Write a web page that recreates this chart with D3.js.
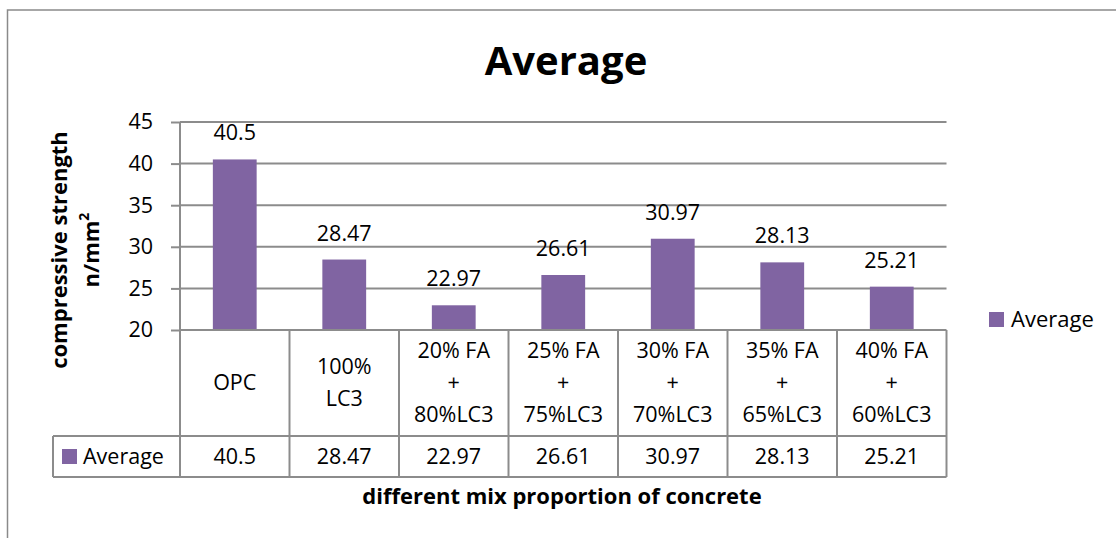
<!DOCTYPE html>
<html>
<head>
<meta charset="utf-8">
<script src="https://cdn.jsdelivr.net/npm/d3@7"></script>
<style>
  html, body { margin: 0; padding: 0; background: #ffffff; }
  svg { display: block; }
  text { font-family: "Open Sans", "DejaVu Sans", sans-serif; fill: #000; }
</style>
</head>
<body>
<svg id="chart" width="1116" height="538"></svg>
<script>
// ---- data ----
const categories = ["OPC", "100% LC3", "20% FA + 80%LC3", "25% FA + 75%LC3", "30% FA + 70%LC3", "35% FA + 65%LC3", "40% FA + 60%LC3"];
const categoryLines = [
  ["OPC"],
  ["100%", "LC3"],
  ["20% FA", "+", "80%LC3"],
  ["25% FA", "+", "75%LC3"],
  ["30% FA", "+", "70%LC3"],
  ["35% FA", "+", "65%LC3"],
  ["40% FA", "+", "60%LC3"]
];
const averageValues = [40.5, 28.47, 22.97, 26.61, 30.97, 28.13, 25.21];
const valueLabels = ["40.5", "28.47", "22.97", "26.61", "30.97", "28.13", "25.21"];
const yTicks = [20, 25, 30, 35, 40, 45];
const seriesName = "Average";
const chartTitle = "Average";
const yTitleLines = ["compressive strength", "n/mm"];
const xTitle = "different mix proportion of concrete";

// ---- layout ----
const W = 1116, H = 538;
const plot = { left: 180, right: 946.5, top: 122, bottom: 330 };
const table = { left: 53, catBottom: 436, valBottom: 477 };
const barColor = "#8064A2";
const lineColor = "#8c8c8c";
const fs = 21.5;

const svg = d3.select("#chart");
svg.append("rect").attr("width", W).attr("height", H).attr("fill", "#fff");

// chart frame (left and top edges visible)
svg.append("path")
  .attr("d", `M7.5,${H} V10 H${W}`)
  .attr("fill", "none").attr("stroke", "#8a8a8a").attr("stroke-width", 1.5);

const x = d3.scaleBand().domain(categories)
  .range([plot.left, plot.right]).paddingInner(0.6).paddingOuter(0.3);
const y = d3.scaleLinear().domain([20, 45]).range([plot.bottom, plot.top]);

// gridlines
svg.append("g").selectAll("line").data(yTicks.filter(t => t !== 20)).join("line")
  .attr("x1", plot.left).attr("x2", plot.right)
  .attr("y1", d => y(d)).attr("y2", d => y(d))
  .attr("stroke", lineColor).attr("stroke-width", 2);

// y axis
const yAxis = svg.append("g").attr("transform", `translate(${plot.left},0)`)
  .call(d3.axisLeft(y).tickValues(yTicks).tickSize(9).tickPadding(18).tickFormat(d3.format("d")));
yAxis.select(".domain").attr("stroke", lineColor).attr("stroke-width", 2)
  .attr("d", `M0,${plot.top}V${plot.bottom}`);
yAxis.selectAll(".tick line").attr("stroke", lineColor).attr("stroke-width", 2);
yAxis.selectAll(".tick text").attr("font-size", fs).attr("font-family", "Open Sans").attr("fill", "#000");

// bars
svg.append("g").selectAll("rect").data(averageValues).join("rect")
  .attr("x", (d, i) => x(categories[i]))
  .attr("width", x.bandwidth())
  .attr("y", d => y(d))
  .attr("height", d => y(20) - y(d))
  .attr("fill", barColor);

// data labels
svg.append("g").selectAll("text").data(averageValues).join("text")
  .attr("x", (d, i) => x(categories[i]) + x.bandwidth() / 2)
  .attr("y", d => y(d) - 19)
  .attr("text-anchor", "middle").attr("font-size", fs)
  .text((d, i) => valueLabels[i]);

// ---- data table ----
const step = x.step();
const colLeft = i => plot.left + i * step;
const tg = svg.append("g");
tg.append("line").attr("x1", plot.left).attr("x2", plot.right).attr("y1", plot.bottom).attr("y2", plot.bottom);
tg.append("line").attr("x1", table.left).attr("x2", plot.right).attr("y1", table.catBottom).attr("y2", table.catBottom);
tg.append("line").attr("x1", table.left).attr("x2", plot.right).attr("y1", table.valBottom).attr("y2", table.valBottom);
tg.append("line").attr("x1", table.left).attr("x2", table.left).attr("y1", table.catBottom).attr("y2", table.valBottom);
tg.selectAll("line.v").data(d3.range(categories.length + 1)).join("line").attr("class", "v")
  .attr("x1", i => colLeft(i)).attr("x2", i => colLeft(i))
  .attr("y1", plot.bottom).attr("y2", table.valBottom);
tg.selectAll("line").attr("stroke", lineColor).attr("stroke-width", 2);

// category labels
const catG = svg.append("g");
categoryLines.forEach((lines, i) => {
  const cx = x(categories[i]) + x.bandwidth() / 2;
  const n = lines.length;
  lines.forEach((t, j) => {
    catG.append("text")
      .attr("x", cx)
      .attr("y", 390 + (j - (n - 1) / 2) * 32)
      .attr("text-anchor", "middle").attr("font-size", fs)
      .text(t);
  });
});

// value row
svg.append("g").selectAll("text").data(valueLabels).join("text")
  .attr("x", (d, i) => x(categories[i]) + x.bandwidth() / 2)
  .attr("y", 464)
  .attr("text-anchor", "middle").attr("font-size", fs)
  .text(d => d);

// legend key in table
svg.append("rect").attr("x", 62).attr("y", 449).attr("width", 15).attr("height", 15).attr("fill", barColor);
svg.append("text").attr("x", 83).attr("y", 464).attr("font-size", fs).text(seriesName);

// ---- titles ----
svg.append("text").attr("x", 566).attr("y", 75).attr("text-anchor", "middle")
  .attr("font-size", 40).attr("font-weight", "bold").text(chartTitle);

svg.append("text").attr("x", 562).attr("y", 504).attr("text-anchor", "middle")
  .attr("font-size", 22).attr("font-weight", "bold").text(xTitle);

const yt = svg.append("g").attr("transform", "translate(0,250) rotate(-90)");
yt.append("text").attr("x", 0).attr("y", 67).attr("text-anchor", "middle")
  .attr("font-size", 22).attr("font-weight", "bold").text(yTitleLines[0]);
const yt2 = yt.append("text").attr("x", 0).attr("y", 99).attr("text-anchor", "middle")
  .attr("font-size", 22).attr("font-weight", "bold");
yt2.append("tspan").text(yTitleLines[1]);
yt2.append("tspan").attr("font-size", 14).attr("dy", -10).text("2");

// ---- legend ----
svg.append("rect").attr("x", 989).attr("y", 312).attr("width", 15).attr("height", 15).attr("fill", barColor);
svg.append("text").attr("x", 1011).attr("y", 327).attr("font-size", 22).text(seriesName);
</script>
</body>
</html>
